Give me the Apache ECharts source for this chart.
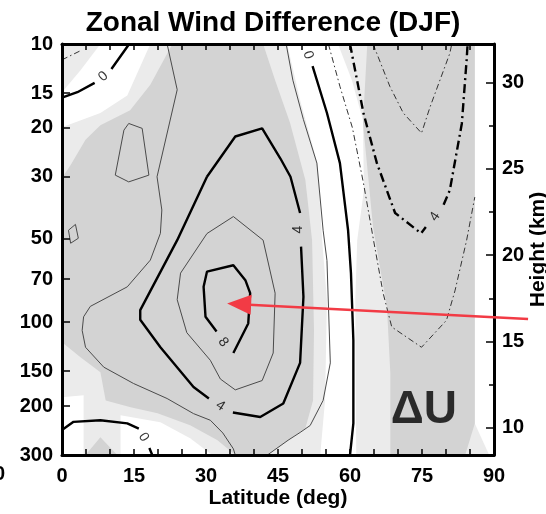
<!doctype html>
<html lang="en">
<head>
<meta charset="UTF-8" />
<title>Zonal Wind Difference (DJF)</title>
<script src="https://cdn.jsdelivr.net/npm/echarts@6/dist/echarts.min.js"></script>
<style>
  html, body { margin: 0; padding: 0; background: #fff; }
  #chart { width: 546px; height: 514px; }
</style>
</head>
<body>
<div id="chart"></div>
<script>
// ------------------------------------------------------------
// Axis ticks
// ------------------------------------------------------------
var latTicks = [0, 15, 30, 45, 60, 75, 90];
var latMinorTicks = [0, 5, 10, 15, 20, 25, 30, 35, 40, 45, 50, 55, 60, 65, 70, 75, 80, 85, 90];
var pressureTicks = [10, 15, 20, 30, 50, 70, 100, 150, 200, 300];
var heightTicks = [10, 15, 20, 25, 30];
var heightMinorTicks = [12.5, 17.5, 22.5, 27.5];

// ------------------------------------------------------------
// Contours, points are [latitude, pressure hPa]; '-' = gap for a label
// ------------------------------------------------------------
var c0TopLeft = [[0, 15.6], [3.2, 14.9], [6.8, 13.8], '-', [10.3, 12.3], [14.0, 10]];
var c0Right = [[52.2, 12.0], [55.2, 17.7], [57.9, 26.8], [59.6, 46.7], [60.2, 66.6], [60.7, 116], [60.7, 231], [60.0, 300]];
var c0Bottom = [[0, 244], [2.4, 228], [8.0, 225], [13.6, 231], [16.0, 241], '-', [18.2, 283], [18.8, 300]];
var c2Left = [[21.9, 10], [24.0, 14.6], [19.8, 30], [20.8, 39.5], [20.5, 47.9], [18.4, 59.8], [13.6, 74.6], [5.9, 87.7],
  [4.5, 95.6], [4.2, 107], [4.9, 123], [8.7, 145], [14.9, 166], [21.9, 188], [27.4, 213], [30.9, 225], [33.5, 250],
  [35.7, 285], [36.1, 300]];
var c2Right = [[46.7, 10], [48.1, 13.5], [50.3, 18.7], [53.1, 26.8], [54.4, 46.7], [55.2, 60], [55.9, 140], [54.4, 191],
  [51.7, 235], [49.6, 249], [47.1, 265.5], [42.8, 300]];
var c2Small = [[13.9, 19.3], [16.7, 20.1], [18.1, 29.6], [13.9, 31.3], [11.1, 29.6], [12.9, 20.4], [13.9, 19.3]];
var c2Tiny = [[1.35, 46.7], [2.8, 44.5], [3.4, 49.9], [1.8, 52], [1.35, 46.7]];
var c4 = [[30.2, 30], [36.1, 21.5], [41.7, 20.1], [45.5, 25.8], [47.6, 30], [49.6, 40.5], '-', [49.8, 53.5], [50.3, 81],
  [49.6, 140], [46.1, 196], [41.3, 219], [35.6, 211], '-', [30.6, 188], [27.4, 171], [20.5, 123], [16.3, 98],
  [16.3, 90.5], [24.0, 50.7], [30.2, 30]];
var c6 = [[35.7, 41.7], [41.9, 50.7], [44.4, 78.6], [44.0, 129], [41.7, 162], [36.1, 175], [33.0, 160], [30.9, 137],
  [26.0, 109], [24.0, 83], [24.7, 66.6], [30.2, 48], [35.7, 41.7]];
var c8 = [[35.7, 129], [38.8, 101], [39.2, 78.6], [38.2, 70.6], [35.7, 62.4], [30.2, 65.8], [29.5, 74.6], [29.9, 95.6],
  [32.2, 108]];
var cm2 = [[55.5, 10], [57.9, 14.2], [60.5, 20], [62.8, 31.6], [64.9, 50.7], [66.9, 78.6], [68.7, 104], [74.9, 123],
  [80.1, 98.4], [81.9, 76.7], [84.3, 50.7], [86.0, 35.5]];
var cm2Corner = [[0, 11.4], [4.2, 10.5]];
var cm4 = [[60.0, 10], [62.8, 17.7], [65.6, 26.8], [69.4, 40.5], [74.8, 47.9], [75.8, 45.5], '-', [79.5, 37.8],
  [80.8, 33.5], [83.3, 19.3], [84.3, 11.4], [84.5, 10]];
var cm6 = [[64.8, 10], [68.3, 14.2], [71.1, 17.7], [74.9, 20.9], [76.7, 16.8], [80.8, 10.8], [81.2, 10]];

// contour labels: [latitude, pressure, text]
var contourLabels = [[8.6, 13.1, '0'], [51.3, 10.95, '0'], [17.0, 259, '0'], [49.2, 46.5, '4'], [33.0, 200, '4'],
  [33.6, 118, '8'], [77.7, 41.7, '4']];
var contourLabelAngles = [42, -72, -58, 90, -33, -52, 56];

// ------------------------------------------------------------
// Shaded areas (grid background is the light grey level)
// ------------------------------------------------------------
var whiteTopLeft = [[8, 10], [18.4, 10], [13.6, 15.3], [8, 17.7], [0, 19.9], [0, 14.9], [3.9, 12.4]];
var whiteBottomLeft = [[0, 186], [4.5, 183], [4.5, 300], [0, 300]];
var whiteBottomMid = [[12.2, 216], [20.5, 229], [26.7, 261], [31.3, 300], [12.2, 300]];
var whiteCentre = [[46.9, 10], [49.6, 15.9], [53.2, 26.8], [54.2, 50.7], [55.2, 83.3], [54.8, 190.9], [53.8, 300],
  [61.3, 300], [61.1, 83.3], [61.5, 50.7], [62.9, 33.5], [62.7, 18.8], [60.4, 13.5], [57.5, 10]];
var whiteRight = [[86, 10], [90, 10], [90, 300], [89, 300], [86, 231]];
var darkMain = [[23.0, 10], [41.9, 10], [44.4, 13.5], [47.5, 19.2], [50.7, 30.8], [52.1, 50.7], [52.5, 106.9],
  [52.3, 190.9], [50.7, 240.4], [47.1, 265.5], [42.8, 300], [36.1, 300], [32.4, 265.5], [26.7, 234.7], [19.9, 212.3],
  [14.3, 202.2], [9.1, 190.9], [8.0, 151.3], [3.85, 133.6], [0, 118], [0, 30.3], [1.8, 27.2], [4.9, 22.1],
  [8.0, 19.6], [14.2, 17.3], [18.4, 14.0]];
var darkRight = [[63.6, 10], [62.7, 19.2], [64.8, 45.5], [67.7, 88.3], [68.4, 152.6], [68.4, 300], [84, 300],
  [86, 231], [86, 10]];
var darkBottomLeft = [[4.9, 300], [8.0, 259], [11.5, 300]];

// arrow: tail and tip as [latitude, pressure]
var arrowTail = [97.1, 97.3];
var arrowTip = [34.4, 85.7];
var deltaULabel = [75.4, 207];

// ------------------------------------------------------------
var FONT = 'Liberation Sans, Arial, Helvetica, sans-serif';
var LIGHT = '#ebebeb', DARK = '#d3d3d3';
var lg = function (p) { return Math.log10(p); };
var toPt = function (d) { return d === '-' ? '-' : [d[0], lg(d[1])]; };

var shading = [
  { pts: whiteTopLeft, fill: '#fff' },
  { pts: whiteBottomLeft, fill: '#fff' },
  { pts: whiteBottomMid, fill: '#fff' },
  { pts: whiteCentre, fill: '#fff' },
  { pts: whiteRight, fill: '#fff' },
  { pts: darkMain, fill: DARK },
  { pts: darkRight, fill: DARK },
  { pts: darkBottomLeft, fill: DARK }
];

var styles = {
  thick: { color: '#000', width: 2.4, type: 'solid' },
  thin: { color: '#4a4a4a', width: 1, type: 'solid' },
  thickNeg: { color: '#000', width: 2.4, type: [9, 4, 2, 4] },
  thinNeg: { color: '#333', width: 1, type: [6, 3, 1.5, 3] }
};
var contours = [
  [c0TopLeft, 'thick'], [c0Right, 'thick'], [c0Bottom, 'thick'],
  [c2Left, 'thin'], [c2Right, 'thin'], [c2Small, 'thin'], [c2Tiny, 'thin'],
  [c4, 'thick'], [c6, 'thin'], [c8, 'thick'],
  [cm2, 'thinNeg'], [cm2Corner, 'thinNeg'], [cm4, 'thickNeg'], [cm6, 'thinNeg']
];

var series = [];
series.push({
  type: 'custom',
  silent: true,
  z: 1,
  data: shading.map(function (s) { return [s.pts[0][0], lg(s.pts[0][1])]; }),
  encode: { x: 0, y: 1 },
  renderItem: function (params, api) {
    var s = shading[params.dataIndex];
    return {
      type: 'polygon',
      shape: { points: s.pts.map(function (pt) { return api.coord([pt[0], lg(pt[1])]); }) },
      style: { fill: s.fill }
    };
  }
});
contours.forEach(function (c) {
  series.push({
    type: 'line',
    silent: true,
    z: 2,
    symbol: 'none',
    connectNulls: false,
    data: c[0].map(toPt),
    lineStyle: styles[c[1]]
  });
});
series.push({
  type: 'scatter',
  silent: true,
  z: 3,
  symbolSize: 0,
  data: contourLabels.map(function (l, i) {
    return { name: l[2], value: [l[0], lg(l[1])], label: { rotate: contourLabelAngles[i] } };
  }),
  label: {
    show: true, position: 'inside', formatter: '{b}',
    fontFamily: FONT, fontSize: 14, color: '#000'
  }
});
series.push({
  type: 'scatter',
  silent: true,
  z: 3,
  symbolSize: 0,
  data: [{ name: '\u0394U', value: [deltaULabel[0], lg(deltaULabel[1])] }],
  label: {
    show: true, position: 'inside', formatter: '{b}',
    fontFamily: FONT, fontSize: 46, fontWeight: 'bold', color: '#000'
  }
});
series.push({
  type: 'custom',
  silent: true,
  z: 20,
  clip: false,
  data: [[arrowTail[0], lg(arrowTail[1]), arrowTip[0], lg(arrowTip[1])]],
  encode: { x: [0, 2], y: [1, 3] },
  renderItem: function (params, api) {
    var a = api.coord([api.value(0), api.value(1)]);
    var b = api.coord([api.value(2), api.value(3)]);
    var dx = b[0] - a[0], dy = b[1] - a[1];
    var len = Math.sqrt(dx * dx + dy * dy);
    var ux = dx / len, uy = dy / len;
    var hl = 24, hw = 10;
    var base = [b[0] - ux * hl, b[1] - uy * hl];
    return {
      type: 'group',
      children: [
        { type: 'line', shape: { x1: a[0], y1: a[1], x2: base[0] + ux * 2, y2: base[1] + uy * 2 },
          style: { stroke: '#f23b45', lineWidth: 2.6 } },
        { type: 'polygon',
          shape: { points: [b, [base[0] - uy * hw, base[1] + ux * hw], [base[0] + uy * hw, base[1] - ux * hw]] },
          style: { fill: '#f23b45' } }
      ]
    };
  }
});

var hMin = 7 * Math.log(1000 / 300);
var hMax = 7 * Math.log(1000 / 10);
var axisLine = { show: true, onZero: false, lineStyle: { color: '#000', width: 3 } };
var tickStyle = { color: '#000', width: 1.5 };
var labelStyle = { fontFamily: FONT, fontSize: 20, fontWeight: 'bold', color: '#000' };
var gridRect = { left: 62, right: 52, top: 44, bottom: 59, outerBoundsMode: 'none', containLabel: false };

var chart = echarts.init(document.getElementById('chart'), null, { renderer: 'canvas' });
chart.setOption({
  animation: false,
  backgroundColor: '#fff',
  title: {
    text: 'Zonal Wind Difference (DJF)',
    left: 'center',
    top: 4,
    textStyle: { fontFamily: FONT, fontSize: 28, fontWeight: 'bold', color: '#000' }
  },
  // the leftover glyph of a neighbouring panel at the lower-left edge
  graphic: [{
    type: 'text', left: -6, top: 464, silent: true,
    style: { text: '0', font: 'bold 20px ' + FONT, fill: '#000' }
  }],
  grid: [
    Object.assign({ show: true, backgroundColor: LIGHT, borderWidth: 0 }, gridRect),
    Object.assign({ show: false }, gridRect)
  ],
  xAxis: [
    {
      type: 'value', position: 'bottom', min: 0, max: 90, z: 10,
      axisLine: axisLine,
      axisTick: { inside: true, length: 6, customValues: latMinorTicks, lineStyle: tickStyle },
      axisLabel: Object.assign({ customValues: latTicks, margin: 11 }, labelStyle),
      splitLine: { show: false },
      name: 'Latitude (deg)', nameLocation: 'middle', nameGap: 33, nameMoveOverlap: false,
      nameTextStyle: { fontFamily: FONT, fontSize: 21, fontWeight: 'bold', color: '#000' }
    },
    {
      type: 'value', position: 'top', min: 0, max: 90, z: 10,
      axisLine: axisLine,
      axisTick: { inside: true, length: 6, customValues: latMinorTicks, lineStyle: tickStyle },
      axisLabel: { show: false },
      splitLine: { show: false }
    },
    {
      type: 'value', gridIndex: 1, min: 0, max: 90, show: false
    }
  ],
  yAxis: [
    {
      type: 'value', position: 'left', inverse: true, min: lg(10), max: lg(300), z: 10,
      axisLine: axisLine,
      axisTick: { inside: true, length: 8, customValues: pressureTicks.map(lg), lineStyle: tickStyle },
      axisLabel: Object.assign({
        customValues: pressureTicks.map(lg), margin: 9,
        formatter: function (v) { return String(Math.round(Math.pow(10, v))); }
      }, labelStyle),
      splitLine: { show: false }
    },
    {
      type: 'value', position: 'right', min: hMin, max: hMax, z: 10,
      axisLine: axisLine,
      axisTick: { inside: true, length: 8, customValues: heightTicks, lineStyle: tickStyle },
      axisLabel: Object.assign({ customValues: heightTicks, margin: 8 }, labelStyle),
      splitLine: { show: false },
      name: 'Height (km)', nameLocation: 'middle', nameGap: 34, nameMoveOverlap: false,
      nameTextStyle: { fontFamily: FONT, fontSize: 21, fontWeight: 'bold', color: '#000' }
    },
    {
      type: 'value', gridIndex: 1, position: 'right', min: hMin, max: hMax, z: 10,
      axisLine: { show: false, onZero: false },
      axisTick: { inside: true, length: 5, customValues: heightMinorTicks, lineStyle: tickStyle },
      axisLabel: { show: false },
      splitLine: { show: false }
    }
  ],
  series: series
});
</script>
</body>
</html>
